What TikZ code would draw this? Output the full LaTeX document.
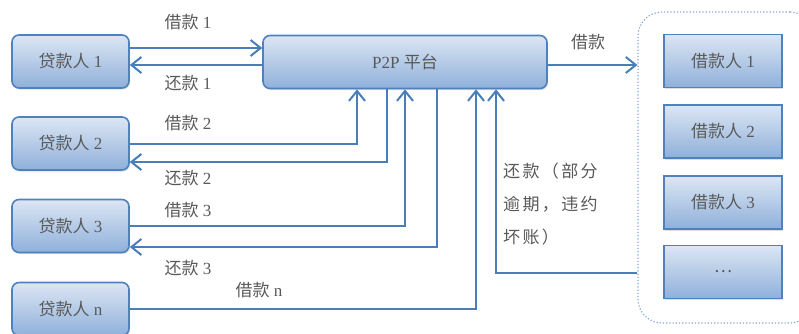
\documentclass[tikz,border=0pt]{standalone}
\usepackage{fontspec}
\setmainfont{Liberation Serif}
\newfontfamily\cjk{Noto Sans CJK SC}
\newfontfamily\cjkls{Noto Sans CJK SC}[LetterSpace=14]
\usetikzlibrary{arrows.meta,shadows}
\definecolor{lnblue}{HTML}{4A7EBB}
\definecolor{bdblue}{HTML}{4F81BD}
\definecolor{topb}{HTML}{DCE6F4}
\definecolor{botb}{HTML}{8FB0DA}
\definecolor{txt}{HTML}{595959}
\definecolor{dotb}{HTML}{7EA6D8}
\begin{document}
\begin{tikzpicture}[x=1pt,y=-1pt,
  boxbase/.style={draw=bdblue, line width=1.6pt, top color=topb, bottom color=botb,
    text=txt, font=\fontsize{17}{20}\selectfont, inner sep=0pt,
    drop shadow={opacity=0.25, shadow xshift=1pt, shadow yshift=-1.5pt}},
  lender/.style={boxbase, rounded corners=7pt, minimum width=117pt, minimum height=53pt},
  borrower/.style={boxbase, minimum width=118pt, minimum height=53pt},
  lbl/.style={text=txt, font=\fontsize{17}{20}\selectfont, inner sep=0pt},
  conn/.style={draw=lnblue, line width=2pt},
  arr/.style={conn, -{Straight Barb[length=10pt,width=16pt]}}]
\useasboundingbox (0,0) rectangle (799,333);
% container
\node[draw=dotb, dotted, line width=1.2pt, rounded corners=24pt,
  minimum width=176pt, minimum height=311pt] (cont) at (726,167.5) {};
% lenders
\node[lender] (l1) at (70.5,61.5) {{\cjk 贷款人} 1};
\node[lender] (l2) at (70.5,143.5) {{\cjk 贷款人} 2};
\node[lender] (l3) at (70.5,226) {{\cjk 贷款人} 3};
\node[lender] (ln) at (70.5,309) {{\cjk 贷款人} n};
% platform
\node[lender, minimum width=284pt] (p2p) at (405,62) {P2P {\cjk 平台}};
% borrowers
\node[borrower] (b1) at (723,61) {{\cjk 借款人} 1};
\node[borrower] (b2) at (723,131.5) {{\cjk 借款人} 2};
\node[borrower] (b3) at (723,202.5) {{\cjk 借款人} 3};
\node[borrower] (b4) at (723,272) {{\cjk …}};
% labels
\node[lbl] (t1) at (188,22) {{\cjk 借款} 1};
\node[lbl] (t2) at (188,83) {{\cjk 还款} 1};
\node[lbl] (t3) at (188,123) {{\cjk 借款} 2};
\node[lbl] (t4) at (188,178) {{\cjk 还款} 2};
\node[lbl] (t5) at (188,210) {{\cjk 借款} 3};
\node[lbl] (t6) at (188,268) {{\cjk 还款} 3};
\node[lbl] (t7) at (259,290) {{\cjk 借款} n};
\node[lbl] (t8) at (588,42) {\cjk 借款};
\node[lbl, anchor=north west, align=left, font=\fontsize{17}{33}\selectfont\cjkls] (t9) at (503,163)
  {还款（部分\\逾期，违约\\坏账）};
% connectors
\draw[arr] (l1.east |- 0,48) -- (p2p.west |- 0,48);
\draw[arr] (p2p.west |- 0,65) -- (l1.east |- 0,65);
\draw[arr] (l2.east) -| ([xshift=-48pt]p2p.south);
\draw[arr] ([xshift=-18pt]p2p.south) |- (l2.east |- 0,162);
\draw[arr] (l3.east) -| (p2p.south);
\draw[arr] ([xshift=32pt]p2p.south) |- (l3.east |- 0,247);
\draw[arr] (ln.east) -| ([xshift=71pt]p2p.south);
\draw[arr] (cont.west |- 0,273) -| ([xshift=91pt]p2p.south);
\draw[arr] (p2p.east |- 0,65) -- (cont.west |- 0,65);
\end{tikzpicture}
\end{document}
